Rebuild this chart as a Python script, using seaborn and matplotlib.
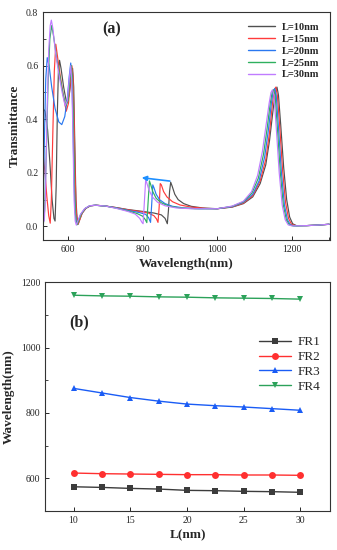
"""
Transmission spectra (a) and Fano resonance positions (b)
"""

import numpy as np
import pandas as pd
import matplotlib
matplotlib.use("Agg")
import matplotlib.pyplot as plt
import seaborn as sns
from matplotlib.ticker import MultipleLocator

# ---- panel (a): transmittance spectra for each L ----
wl_10 = [533, 538, 545, 551, 557, 562, 565, 568, 571, 574, 577, 581, 588, 596, 603, 608, 612, 615, 618, 621,
         624, 627, 631, 638, 648, 660, 675, 700, 730, 760, 800, 830, 850, 860, 866, 869, 872, 875, 879, 886,
         895, 910, 930, 960, 1000, 1040, 1070, 1095, 1115, 1130, 1140, 1150, 1156, 1160, 1164, 1170, 1178,
         1186, 1194, 1202, 1212, 1240, 1270, 1300]
t_10 = [0.44, 0.43, 0.36, 0.24, 0.10, 0.03, 0.02, 0.15, 0.42, 0.58, 0.62, 0.59, 0.52, 0.46, 0.49, 0.55, 0.59,
        0.52, 0.30, 0.10, 0.03, 0.008, 0.025, 0.05, 0.068, 0.077, 0.079, 0.076, 0.070, 0.063, 0.056, 0.050,
        0.043, 0.030, 0.010, 0.06, 0.13, 0.165, 0.150, 0.120, 0.100, 0.085, 0.075, 0.069, 0.066, 0.072, 0.085,
        0.11, 0.16, 0.23, 0.32, 0.44, 0.50, 0.52, 0.49, 0.38, 0.22, 0.10, 0.035, 0.01, 0.003, 0.003, 0.005, 0.008]

wl_15 = [533, 538, 543, 548, 552, 555, 559, 563, 567, 571, 578, 587, 595, 601, 606, 610, 613, 616, 619, 622,
         626, 630, 637, 647, 660, 675, 700, 730, 760, 790, 815, 830, 837, 841, 844, 847, 850, 856, 865, 880,
         900, 930, 970, 1000, 1040, 1070, 1095, 1115, 1130, 1140, 1148, 1153, 1157, 1161, 1167, 1175, 1183,
         1191, 1199, 1210, 1240, 1270, 1300]
t_15 = [0.27, 0.20, 0.11, 0.04, 0.012, 0.10, 0.35, 0.58, 0.68, 0.64, 0.57, 0.49, 0.43, 0.46, 0.54, 0.60, 0.56,
        0.40, 0.18, 0.05, 0.008, 0.02, 0.048, 0.067, 0.077, 0.079, 0.076, 0.070, 0.062, 0.056, 0.050, 0.040,
        0.028, 0.015, 0.07, 0.16, 0.155, 0.130, 0.110, 0.092, 0.080, 0.072, 0.067, 0.066, 0.073, 0.087, 0.115,
        0.17, 0.25, 0.35, 0.46, 0.51, 0.52, 0.49, 0.38, 0.21, 0.09, 0.03, 0.008, 0.003, 0.003, 0.005, 0.008]

wl_20 = [533, 536, 540, 544, 549, 556, 565, 575, 583, 591, 598, 603, 607, 610, 613, 616, 619, 623, 627, 634,
         645, 658, 673, 700, 730, 760, 790, 808, 816, 821, 824, 827, 830, 836, 845, 860, 880, 910, 950, 1000,
         1040, 1070, 1095, 1112, 1127, 1137, 1145, 1150, 1154, 1158, 1164, 1172, 1180, 1188, 1196, 1206, 1240,
         1270, 1300]
t_20 = [0.05, 0.30, 0.55, 0.63, 0.60, 0.52, 0.44, 0.39, 0.38, 0.41, 0.48, 0.56, 0.61, 0.56, 0.38, 0.16, 0.05,
        0.008, 0.02, 0.045, 0.066, 0.077, 0.079, 0.076, 0.069, 0.060, 0.052, 0.045, 0.032, 0.015, 0.08, 0.155,
        0.145, 0.120, 0.100, 0.085, 0.075, 0.069, 0.066, 0.066, 0.074, 0.09, 0.12, 0.17, 0.26, 0.36, 0.46,
        0.505, 0.515, 0.49, 0.37, 0.20, 0.08, 0.025, 0.006, 0.002, 0.003, 0.005, 0.008]

wl_25 = [533, 537, 541, 546, 551, 556, 561, 569, 578, 587, 594, 600, 605, 609, 612, 615, 618, 621, 624, 628,
         635, 645, 658, 673, 700, 730, 760, 785, 800, 807, 811, 814, 818, 821, 827, 836, 850, 870, 900, 940,
         1000, 1040, 1070, 1093, 1110, 1124, 1134, 1142, 1147, 1151, 1155, 1161, 1169, 1177, 1185, 1193, 1203,
         1240, 1270, 1300]
t_25 = [0.0, 0.06, 0.25, 0.52, 0.70, 0.75, 0.71, 0.63, 0.56, 0.49, 0.45, 0.47, 0.55, 0.60, 0.53, 0.32, 0.10,
        0.02, 0.006, 0.02, 0.046, 0.066, 0.077, 0.079, 0.076, 0.068, 0.058, 0.048, 0.038, 0.025, 0.014, 0.08,
        0.17, 0.158, 0.130, 0.105, 0.088, 0.076, 0.069, 0.066, 0.066, 0.075, 0.092, 0.125, 0.18, 0.27, 0.37,
        0.46, 0.50, 0.51, 0.49, 0.37, 0.20, 0.08, 0.025, 0.006, 0.002, 0.003, 0.005, 0.008]

wl_30 = [533, 536, 539, 543, 548, 552, 555, 559, 566, 575, 584, 592, 598, 603, 607, 610, 613, 616, 619, 622,
         626, 633, 644, 657, 672, 700, 730, 760, 780, 792, 798, 801, 804, 808, 811, 817, 826, 840, 860, 890,
         930, 1000, 1040, 1070, 1092, 1108, 1121, 1131, 1139, 1144, 1148, 1152, 1158, 1166, 1174, 1182, 1190,
         1200, 1240, 1270, 1300]
t_30 = [0.06, 0.02, 0.10, 0.40, 0.66, 0.75, 0.77, 0.74, 0.65, 0.57, 0.50, 0.45, 0.47, 0.55, 0.60, 0.54, 0.33,
        0.10, 0.02, 0.005, 0.02, 0.045, 0.066, 0.077, 0.079, 0.076, 0.067, 0.056, 0.046, 0.030, 0.015, 0.010,
        0.08, 0.175, 0.162, 0.135, 0.110, 0.090, 0.077, 0.069, 0.066, 0.066, 0.076, 0.094, 0.13, 0.19, 0.28,
        0.38, 0.46, 0.50, 0.51, 0.49, 0.37, 0.20, 0.08, 0.025, 0.006, 0.002, 0.003, 0.005, 0.008]

spectra_labels = ["L=10nm", "L=15nm", "L=20nm", "L=25nm", "L=30nm"]
spectra_colors = ["#505050", "#ff3b3b", "#2a78f0", "#2fb05f", "#c07cff"]

# ---- panel (b): resonance wavelengths vs L ----
L_vals = [10, 12.5, 15, 17.5, 20, 22.5, 25, 27.5, 30]
fr1 = [574, 572, 569, 567, 563, 562, 560, 559, 557]
fr2 = [616, 614, 613, 612, 611, 611, 610, 610, 609]
fr3 = [875, 861, 847, 836, 827, 822, 818, 813, 808]
fr4 = [1160, 1158, 1157, 1155, 1154, 1152, 1151, 1150, 1148]
fr_labels = ["FR1", "FR2", "FR3", "FR4"]
fr_colors = ["#3c3c3c", "#ff3030", "#1a5cf5", "#2ca25a"]
fr_markers = ["s", "o", "^", "v"]

sns.set_style("ticks")
plt.rcParams["font.family"] = ["Liberation Serif", "DejaVu Serif"]
plt.rcParams["xtick.direction"] = "in"
plt.rcParams["ytick.direction"] = "in"

fig = plt.figure(figsize=(3.37, 5.5), dpi=100)
ax1 = fig.add_axes([0.128, 0.564, 0.851, 0.414])
ax2 = fig.add_axes([0.134, 0.071, 0.845, 0.416])

# Panel (a)
rows = []
for lab, wl, t in zip(spectra_labels, [wl_10, wl_15, wl_20, wl_25, wl_30], [t_10, t_15, t_20, t_25, t_30]):
    rows.append(pd.DataFrame({"wl": wl, "T": t, "L": lab}))
df_a = pd.concat(rows, ignore_index=True)
sns.lineplot(data=df_a, x="wl", y="T", hue="L", palette=dict(zip(spectra_labels, spectra_colors)),
             estimator=None, sort=False, linewidth=0.85, ax=ax1)

ax1.annotate("", xy=(790, 0.183), xytext=(880, 0.168),
             arrowprops=dict(arrowstyle="-|>", color="#1e8fff", lw=1.2, mutation_scale=7))

ax1.set_xlim(533, 1302)
ax1.set_ylim(-0.05, 0.8)
ax1.xaxis.set_major_locator(MultipleLocator(200))
ax1.xaxis.set_minor_locator(MultipleLocator(100))
ax1.yaxis.set_major_locator(MultipleLocator(0.2))
ax1.yaxis.set_minor_locator(MultipleLocator(0.1))
ax1.yaxis.set_major_formatter(matplotlib.ticker.FormatStrFormatter("%.1f"))
ax1.set_xlabel("Wavelength(nm)", fontsize=9.5, fontweight="bold", labelpad=3)
ax1.set_ylabel("Transmittance", fontsize=9.5, fontweight="bold", labelpad=4)
ax1.text(0.24, 0.925, "(a)", transform=ax1.transAxes, fontsize=11.5, fontweight="bold", ha="center", va="center")
leg = ax1.legend(loc="upper right", bbox_to_anchor=(0.995, 0.995), frameon=False,
                 prop={"family": "Liberation Serif", "weight": "bold", "size": 7.5},
                 handlelength=2.6, labelspacing=0.25, handletextpad=0.6)
for ln in leg.get_lines():
    ln.set_linewidth(1.0)

# Panel (b)
for vals, lab, col, mk in zip([fr1, fr2, fr3, fr4], fr_labels, fr_colors, fr_markers):
    sns.lineplot(x=L_vals, y=vals, color=col, marker=mk, markersize=5, markeredgewidth=0,
                 linewidth=1.0, label=lab, ax=ax2)

ax2.set_xlim(7.5, 32.6)
ax2.set_ylim(500, 1200)
ax2.xaxis.set_major_locator(MultipleLocator(5))
ax2.yaxis.set_major_locator(MultipleLocator(200))
ax2.yaxis.set_minor_locator(MultipleLocator(100))
ax2.set_xlabel("L(nm)", fontsize=9.5, fontweight="bold", labelpad=3)
ax2.set_ylabel("Wavelength(nm)", fontsize=9.5, fontweight="bold", labelpad=4)
ax2.text(0.12, 0.825, "(b)", transform=ax2.transAxes, fontsize=11.5, fontweight="bold", ha="center", va="center")
ax2.legend(loc="center left", bbox_to_anchor=(0.71, 0.64), frameon=False,
           prop={"family": "Liberation Serif", "size": 9.5},
           handlelength=2.4, labelspacing=0.2, handletextpad=0.5)

for ax in (ax1, ax2):
    for sp in ax.spines.values():
        sp.set_visible(True)
        sp.set_linewidth(0.8)
        sp.set_color("#333333")
    ax.tick_params(which="major", labelsize=7, length=3, width=0.7)
    ax.tick_params(which="minor", length=2, width=0.6)

fig.savefig("out.png", dpi=100)
